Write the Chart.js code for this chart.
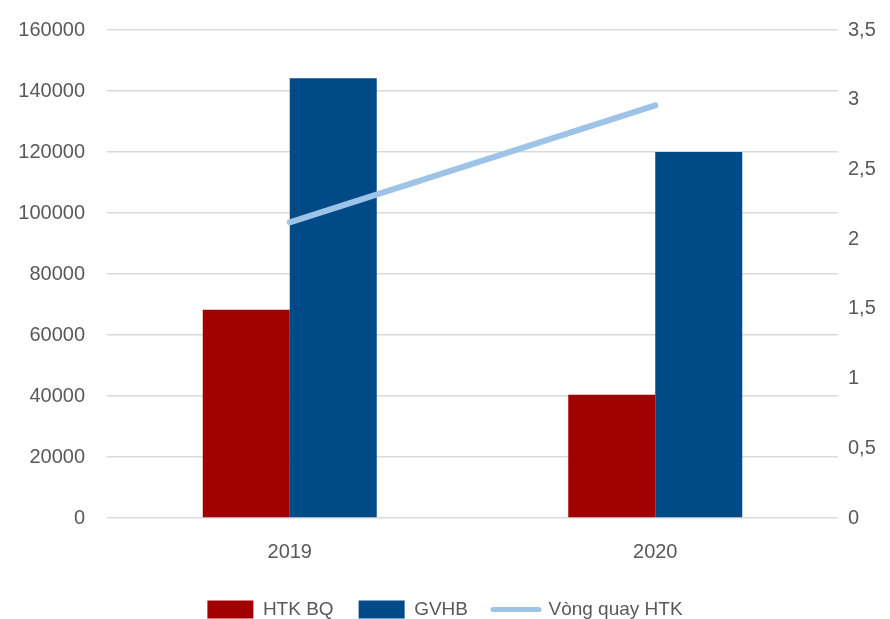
<!DOCTYPE html>
<html>
<head>
<meta charset="utf-8">
<script src="https://cdn.jsdelivr.net/npm/chart.js@4/dist/chart.umd.min.js"></script>
<style>
    html, body { margin: 0; padding: 0; background: #ffffff; overflow: hidden; }
    #wrap { position: relative; width: 890px; height: 629px; }
</style>
</head>
<body>
<div id="wrap"><canvas id="chart"></canvas></div>
<script>
// Chart data
const years = ['2019', '2020'];
const htkBq = [68300, 40400];
const gvhb = [144200, 120000];
const vongQuay = [2.12, 2.96];
const leftTicks = [0, 20000, 40000, 60000, 80000, 100000, 120000, 140000, 160000];
const rightTicks = [0, 0.5, 1, 1.5, 2, 2.5, 3, 3.5];

const textColor = '#595959';
const fontFamily = '"Liberation Sans", Arial, sans-serif';

const ctx = document.getElementById('chart').getContext('2d');
new Chart(ctx, {
    type: 'bar',
    data: {
        labels: years,
        datasets: [
            {
                label: 'HTK BQ',
                data: htkBq,
                backgroundColor: '#a00000',
                borderWidth: 0,
                yAxisID: 'y',
                order: 1
            },
            {
                label: 'GVHB',
                data: gvhb,
                backgroundColor: '#004a87',
                borderWidth: 0,
                yAxisID: 'y',
                order: 1
            },
            {
                label: 'Vòng quay HTK',
                type: 'line',
                data: vongQuay,
                borderColor: '#9dc3e6',
                backgroundColor: '#9dc3e6',
                borderWidth: 6,
                borderCapStyle: 'round',
                pointRadius: 0,
                fill: false,
                yAxisID: 'y1',
                order: -1
            }
        ]
    },
    options: {
        responsive: true,
        maintainAspectRatio: false,
        animation: false,
        layout: {
            padding: { top: 30, left: 0, right: 0, bottom: 0 }
        },
        datasets: {
            bar: {
                categoryPercentage: 0.476,
                barPercentage: 1
            }
        },
        plugins: {
            tooltip: { enabled: false },
            legend: {
                position: 'bottom',
                labels: {
                    color: textColor,
                    font: { family: fontFamily, size: 19 },
                    usePointStyle: true,
                    pointStyleWidth: 46,
                    boxHeight: 18,
                    padding: 25,
                    generateLabels: function(chart) {
                        return chart.data.datasets.map(function(ds, i) {
                            const isLine = ds.type === 'line';
                            return {
                                text: ds.label,
                                fillStyle: ds.backgroundColor,
                                strokeStyle: isLine ? ds.borderColor : ds.backgroundColor,
                                lineWidth: isLine ? 5 : 0,
                                lineCap: 'round',
                                pointStyle: isLine ? 'line' : 'rect',
                                fontColor: textColor,
                                hidden: false,
                                datasetIndex: i
                            };
                        });
                    }
                }
            }
        },
        scales: {
            x: {
                afterFit: function(scale) { scale.height = scale.height - 3; },
                grid: { display: false },
                border: { display: false },
                ticks: {
                    color: textColor,
                    font: { family: fontFamily, size: 20 },
                    padding: 14
                }
            },
            y: {
                position: 'left',
                min: 0,
                max: 160000,
                afterFit: function(scale) {
                    scale.width = 107;
                    scale.paddingTop = 0;
                },
                afterBuildTicks: function(scale) {
                    scale.ticks = leftTicks.map(function(v) { return { value: v }; });
                },
                grid: {
                    color: '#d9d9d9',
                    lineWidth: 1.6,
                    drawTicks: false
                },
                border: { display: false },
                ticks: {
                    color: textColor,
                    font: { family: fontFamily, size: 20 },
                    padding: 22,
                    callback: function(value) {
                        return String(value);
                    }
                }
            },
            y1: {
                position: 'right',
                min: 0,
                max: 3.5,
                afterFit: function(scale) {
                    scale.width = 52;
                    scale.paddingTop = 0;
                },
                afterBuildTicks: function(scale) {
                    scale.ticks = rightTicks.map(function(v) { return { value: v }; });
                },
                grid: {
                    drawOnChartArea: false,
                    drawTicks: false
                },
                border: { display: false },
                ticks: {
                    color: textColor,
                    font: { family: fontFamily, size: 20 },
                    padding: 10,
                    callback: function(value) {
                        return String(value).replace('.', ',');
                    }
                }
            }
        }
    }
});
</script>
</body>
</html>
